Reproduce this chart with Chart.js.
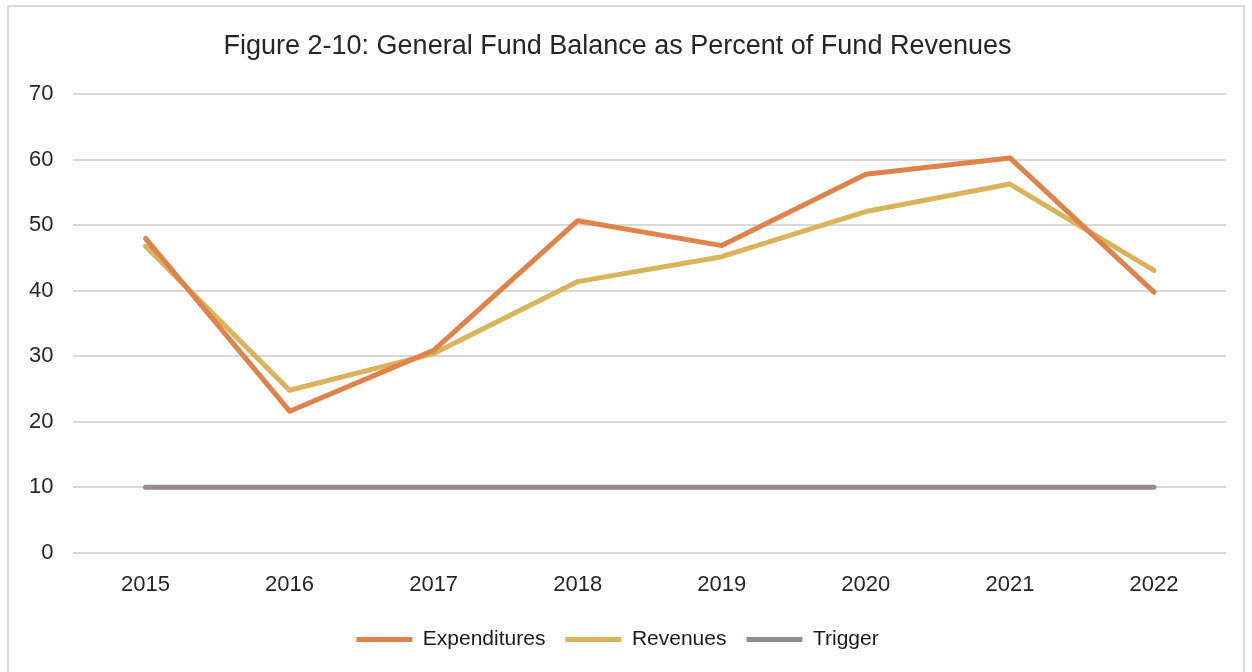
<!DOCTYPE html>
<html>
<head>
<meta charset="utf-8">
<script src="https://cdn.jsdelivr.net/npm/chart.js@4/dist/chart.umd.min.js"></script>
<style>
  body { margin: 0; background: #fff; overflow: hidden; }
  #box {
    position: absolute; left: 7px; top: 5px;
    width: 1238px; height: 700px;
    border: 2px solid #d9d9d9; box-sizing: border-box;
  }
  #wrap { position: absolute; left: 0; top: 0; width: 1234px; height: 676px; }
</style>
</head>
<body>
<div id="box"><div id="wrap"><canvas id="myChart"></canvas></div></div>
<script>
// chart data
const years = ['2015', '2016', '2017', '2018', '2019', '2020', '2021', '2022'];
const expenditures = [48.0, 21.6, 30.9, 50.7, 46.9, 57.8, 60.3, 39.8];
const revenues = [46.8, 24.8, 30.4, 41.4, 45.2, 52.1, 56.3, 43.1];
const trigger = [10, 10, 10, 10, 10, 10, 10, 10];
const yTicks = [0, 10, 20, 30, 40, 50, 60, 70];

const handFont = '"Ink Free", "Liberation Sans Narrow", sans-serif';

document.addEventListener('DOMContentLoaded', () => {
  const ctx = document.getElementById('myChart').getContext('2d');

  const lineStyle = (label, data, color) => ({
    label: label,
    data: data,
    borderColor: color,
    backgroundColor: color,
    borderWidth: 5,
    pointRadius: 0,
    pointStyle: 'line',
    tension: 0,
    borderCapStyle: 'round',
    borderJoinStyle: 'round'
  });

  new Chart(ctx, {
    type: 'line',
    data: {
      labels: years,
      datasets: [
        lineStyle('Expenditures', expenditures, '#E0834A'),
        lineStyle('Revenues', revenues, '#DAB35B'),
        lineStyle('Trigger', trigger, '#978C8C')
      ]
    },
    options: {
      responsive: true,
      maintainAspectRatio: false,
      animation: false,
      layout: { padding: { left: 0, right: 17, top: 0, bottom: 23 } },
      plugins: {
        title: {
          display: true,
          text: 'Figure 2-10: General Fund Balance as Percent of Fund Revenues',
          color: '#262626',
          font: { family: handFont, size: 27, weight: 'normal' },
          padding: { top: 23, bottom: 32 }
        },
        legend: {
          position: 'bottom',
          labels: {
            color: '#1a1a1a',
            font: { family: handFont, size: 21 },
            usePointStyle: true,
            pointStyleWidth: 56,
            padding: 20
          }
        },
        tooltip: { enabled: false }
      },
      scales: {
        x: {
          offset: true,
          grid: { display: false },
          border: { display: false },
          ticks: { color: '#262626', font: { family: handFont, size: 22 }, padding: 11 }
        },
        y: {
          min: 0,
          max: 70,
          afterBuildTicks: axis => { axis.ticks = yTicks.map(v => ({ value: v })); },
          grid: { color: '#d9d9d9', lineWidth: 2, drawTicks: false },
          border: { display: false },
          ticks: { color: '#262626', font: { family: handFont, size: 22 }, padding: 20 }
        }
      }
    }
  });
});
</script>
</body>
</html>
